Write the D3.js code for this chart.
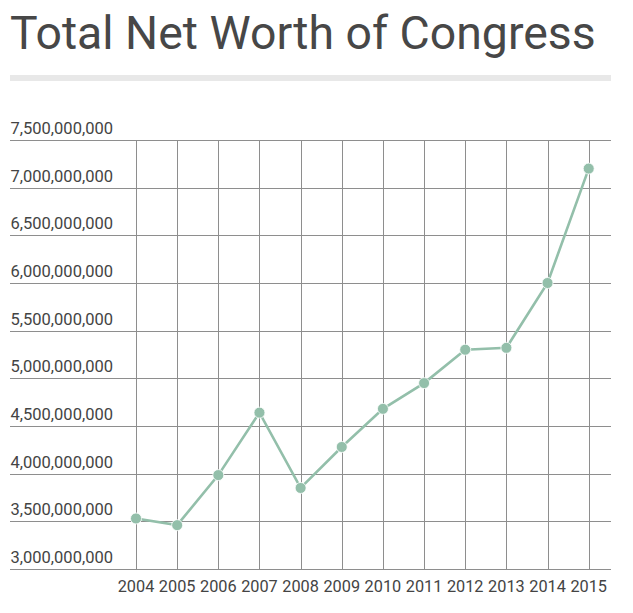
<!DOCTYPE html>
<html><head><meta charset="utf-8">
<script src="https://cdn.jsdelivr.net/npm/d3@7"></script>
<style>
html,body{margin:0;padding:0;background:#fff;}
svg{display:block;font-family:Roboto,"Noto Sans",sans-serif;}
</style></head>
<body><svg id="c" width="633" height="613"></svg>
<script>
const title = "Total Net Worth of Congress";
const years = [2004,2005,2006,2007,2008,2009,2010,2011,2012,2013,2014,2015];
const netWorth = [3530000000,3460000000,3985000000,4640000000,3850000000,4280000000,4680000000,4950000000,5300000000,5320000000,6000000000,7200000000];
const yTicks = [3000000000,3500000000,4000000000,4500000000,5000000000,5500000000,6000000000,6500000000,7000000000,7500000000];

const svg = d3.select("#c");
svg.append("text").attr("x",10).attr("y",49).attr("font-size",46.4).attr("fill","#474747").text(title);
svg.append("rect").attr("x",10).attr("y",75).attr("width",601).attr("height",6).attr("fill","#e8e8e8");

const x = d3.scalePoint().domain(years).range([136,588.7]);
const y = d3.scaleLinear().domain([3000000000,7500000000]).range([569,140]);
const fmt = d3.format(",");

const g = svg.append("g");
g.selectAll("line.h").data(yTicks).join("line").attr("class","h")
  .attr("x1",10).attr("x2",611).attr("y1",d=>Math.round(y(d))+0.5).attr("y2",d=>Math.round(y(d))+0.5)
  .attr("stroke","#8e8e8e").attr("stroke-width",1);
g.selectAll("line.v").data(years).join("line").attr("class","v")
  .attr("x1",d=>Math.round(x(d))+0.5).attr("x2",d=>Math.round(x(d))+0.5).attr("y1",y(7500000000)).attr("y2",y(3000000000))
  .attr("stroke","#8e8e8e").attr("stroke-width",1);
g.selectAll("text.yl").data(yTicks).join("text").attr("class","yl")
  .attr("x",10.5).attr("y",d=>y(d)-6).attr("font-size",16.5).attr("fill","#444").text(d=>fmt(d));
g.selectAll("text.xl").data(years).join("text").attr("class","xl")
  .attr("x",d=>x(d)).attr("y",591.5).attr("text-anchor","middle").attr("font-size",16.3).attr("fill","#444").text(d=>d);

const line = d3.line().x((d,i)=>x(years[i])).y(d=>y(d));
svg.append("path").datum(netWorth).attr("d",line).attr("fill","none").attr("stroke","#93bfaa").attr("stroke-width",2.6);
svg.selectAll("circle").data(netWorth).join("circle")
  .attr("cx",(d,i)=>x(years[i])).attr("cy",d=>y(d)).attr("r",5.5)
  .attr("fill","#93bfaa").attr("stroke","#fff").attr("stroke-width",0.8);
</script></body></html>
